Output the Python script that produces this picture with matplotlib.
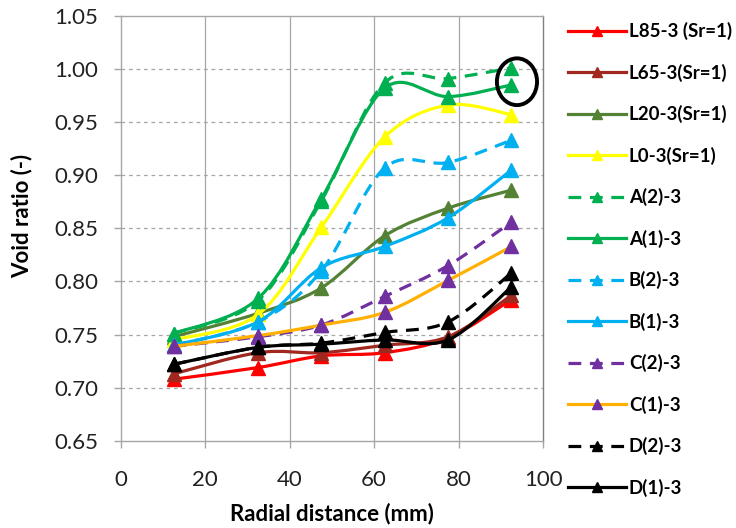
import matplotlib
matplotlib.use('Agg')
import matplotlib.pyplot as plt
import numpy as np
from matplotlib.path import Path
from matplotlib.patches import PathPatch, Ellipse
from matplotlib.lines import Line2D

plt.rcParams['font.family'] = ['Lato', 'DejaVu Sans']

# Radial distance of measurement points (mm)
radial = [12.5, 32.5, 47.5, 62.5, 77.5, 92.5]

# Void ratio of each specimen
l85 = [0.708, 0.719, 0.730, 0.733, 0.747, 0.783]
l65 = [0.713, 0.733, 0.733, 0.740, 0.748, 0.787]
l20 = [0.748, 0.770, 0.794, 0.843, 0.869, 0.886]
l0 = [0.745, 0.769, 0.851, 0.936, 0.966, 0.957]
a2 = [0.751, 0.782, 0.876, 0.987, 0.991, 1.001]
a1 = [0.751, 0.784, 0.878, 0.982, 0.974, 0.985]
b2 = [0.740, 0.762, 0.810, 0.907, 0.912, 0.933]
b1 = [0.740, 0.762, 0.813, 0.833, 0.860, 0.905]
c2 = [0.739, 0.748, 0.759, 0.786, 0.815, 0.856]
c1 = [0.739, 0.749, 0.759, 0.771, 0.801, 0.833]
d2 = [0.722, 0.738, 0.742, 0.752, 0.762, 0.808]
d1 = [0.722, 0.738, 0.741, 0.745, 0.745, 0.795]

labels = ['L85-3 (Sr=1)', 'L65-3(Sr=1)', 'L20-3(Sr=1)', 'L0-3(Sr=1)',
          'A(2)-3', 'A(1)-3', 'B(2)-3', 'B(1)-3',
          'C(2)-3', 'C(1)-3', 'D(2)-3', 'D(1)-3']
series = [l85, l65, l20, l0, a2, a1, b2, b1, c2, c1, d2, d1]
line_colors = ['#FF0000', '#A0281E', '#548235', '#FFFF00',
               '#00B050', '#00B050', '#00B0F0', '#00B0F0',
               '#7030A0', '#FFB000', '#000000', '#000000']
marker_colors = ['#FF0000', '#A0281E', '#548235', '#FFFF00',
                 '#00B050', '#00B050', '#00B0F0', '#00B0F0',
                 '#7030A0', '#7030A0', '#000000', '#000000']
dashed = [False, False, False, False, True, False, True, False,
          True, False, True, False]

dash_style = (0, (4, 2.7))


def smooth_path(x, y):
    # Excel-like smoothed line: cubic Bezier through every point
    pts = np.column_stack([x, y])
    n = len(pts)
    verts = [pts[0]]
    codes = [Path.MOVETO]
    for i in range(n - 1):
        p0 = pts[max(i - 1, 0)]
        p1 = pts[i]
        p2 = pts[i + 1]
        p3 = pts[min(i + 2, n - 1)]
        c1 = p1 + (p2 - p0) / 6.0
        c2 = p2 - (p3 - p1) / 6.0
        verts += [c1, c2, p2]
        codes += [Path.CURVE4] * 3
    return Path(verts, codes)


fig = plt.figure(figsize=(7.36, 5.28), dpi=100)
ax = fig.add_axes([0.164, 0.165, 0.574, 0.805])

handles = []
for k, (vals, lab) in enumerate(zip(series, labels)):
    ls = dash_style if dashed[k] else '-'
    patch = PathPatch(smooth_path(radial, vals), facecolor='none',
                      edgecolor=line_colors[k], lw=2.3, linestyle=ls,
                      zorder=3 + k * 0.1)
    ax.add_patch(patch)
    ax.plot(radial, vals, linestyle='none', marker='^', markersize=10.5,
            color=marker_colors[k], zorder=3.05 + k * 0.1)
    handles.append(Line2D([0], [0], color=line_colors[k], lw=2.3,
                          linestyle=ls, marker='^', markersize=7,
                          markerfacecolor=marker_colors[k],
                          markeredgecolor=marker_colors[k]))

# Highlight circle around A-series end points
ax.add_patch(Ellipse((93.8, 0.988), 9.5, 0.044, facecolor='none',
                     edgecolor='black', lw=2.8, zorder=10))

ax.set_xlim(0, 100)
ax.set_ylim(0.65, 1.05)
ax.set_xticks(np.arange(0, 101, 20))
ax.set_yticks(np.arange(0.65, 1.051, 0.05))
ax.set_yticklabels([f'{v:.2f}' for v in np.arange(0.65, 1.051, 0.05)])

for v in np.arange(20, 81, 20):
    ax.axvline(v, color='#A6A6A6', lw=0.9, zorder=1)
for v in np.arange(0.70, 1.001, 0.05):
    ax.axhline(v, color='#A6A6A6', lw=0.9, linestyle=(0, (3, 3)), zorder=1)

for s in ax.spines.values():
    s.set_color('#A6A6A6')
    s.set_linewidth(1.0)
ax.spines['right'].set_color('#808080')

ax.tick_params(axis='both', direction='out', length=5, width=1,
               color='#A6A6A6', labelsize=16, labelcolor='#222222')
ax.tick_params(axis='y', pad=11)
ax.tick_params(axis='x', pad=16)

ax.set_xlabel('Radial distance (mm)', fontsize=16, fontweight='bold')
ax.set_ylabel('Void ratio (-)', fontsize=16, fontweight='bold')
ax.xaxis.set_label_coords(0.5, -0.145)
ax.yaxis.set_label_coords(-0.21, 0.53)

fig.legend(handles, labels, loc='upper left',
           bbox_to_anchor=(568 / 736, 1 - 22 / 528), frameon=False,
           prop={'weight': 'bold', 'size': 13.5}, handlelength=3.1,
           handletextpad=0.15, labelspacing=1.25, borderpad=0,
           borderaxespad=0)

fig.savefig('out.png', dpi=100)
